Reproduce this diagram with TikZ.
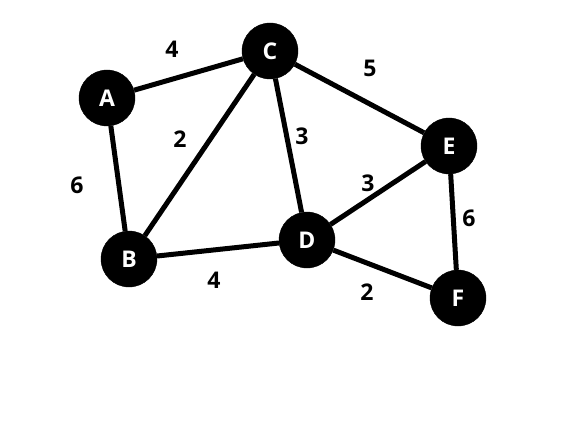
\documentclass[tikz,border=0pt]{standalone}
\usepackage{fontspec}
\setmainfont{Open Sans}
\usepackage{tikz}
\usetikzlibrary{positioning}
\tikzset{
  % Graph styles
  vertex/.style={circle, fill=black, draw=black, minimum size=56pt, inner sep=0pt, text=white, font=\fontsize{23}{26}\selectfont\bfseries},
  edge/.style={line width=5pt, black},
  weight/.style={font=\fontsize{23}{26}\selectfont\bfseries, text=black},
}
\begin{document}
\begin{tikzpicture}[x=1pt, y=-1pt]
    \useasboundingbox (0,0) rectangle (583,425);
    % Vertices
    \node[vertex] (A) at (107,98) {A};
    \node[vertex] (C) at (270,51) {C};
    \node[vertex] (E) at (449,146) {E};
    \node[vertex] (B) at (129,259) {B};
    \node[vertex] (D) at (307,240) {D};
    \node[vertex] (F) at (458,298) {F};
    % Edges
    \foreach \u/\v in {A/C, A/B, C/B, C/D, C/E, B/D, D/E, D/F, E/F} {
      \draw[edge] (\u) -- (\v);
    }
    % Weights
    \node[weight] (wAC) at (172,49) {4};
    \node[weight] (wCE) at (370,68) {5};
    \node[weight] (wBC) at (180,139) {2};
    \node[weight] (wCD) at (302,136) {3};
    \node[weight] (wAB) at (77,185) {6};
    \node[weight] (wDE) at (368,183) {3};
    \node[weight] (wEF) at (469,218) {6};
    \node[weight] (wBD) at (214,280) {4};
    \node[weight] (wDF) at (367,292) {2};
\end{tikzpicture}
\end{document}
